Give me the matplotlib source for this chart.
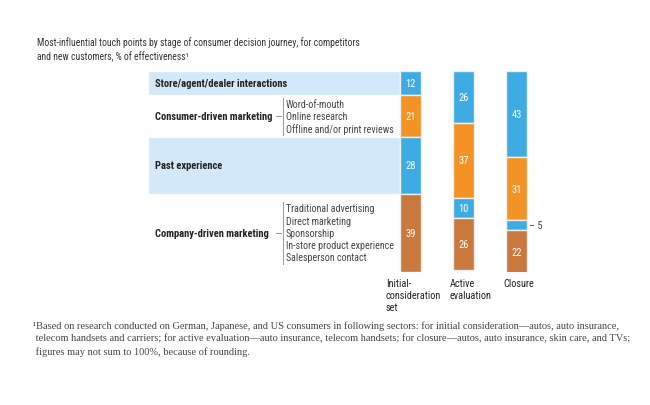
import matplotlib.pyplot as plt
from matplotlib import font_manager

# data
stages = ["Initial-\nconsideration\nset", "Active\nevaluation", "Closure"]
touch_points = [
    "Store/agent/dealer interactions",
    "Consumer-driven marketing",
    "Past experience",
    "Company-driven marketing",
]
sub_items = [
    [],
    ["Word-of-mouth", "Online research", "Offline and/or print reviews"],
    [],
    ["Traditional advertising", "Direct marketing", "Sponsorship",
     "In-store product experience", "Salesperson contact"],
]
initial = [12, 21, 28, 39]
active = [26, 37, 10, 26]
closure = [43, 31, 5, 22]
values = [initial, active, closure]

title = ("Most-influential touch points by stage of consumer decision journey, for competitors\n"
         "and new customers, % of effectiveness\u00b9")
footnote = ("\u00b9Based on research conducted on German, Japanese, and US consumers in following sectors: "
            "for initial consideration\u2014autos, auto insurance,\n"
            " telecom handsets and carriers; for active evaluation\u2014auto insurance, telecom handsets; "
            "for closure\u2014autos, auto insurance, skin care, and TVs;\n"
            " figures may not sum to 100%, because of rounding.")

blue = "#3eabe3"
orange = "#f39325"
brown = "#c9793d"
band = "#d3e8f8"
seg_colors = [blue, orange, blue, brown]
text_dark = "#222222"
text_mid = "#444444"

installed = {f.name for f in font_manager.fontManager.ttflist}
sans = [f for f in ["Liberation Sans Narrow", "Roboto Condensed", "Liberation Sans"] if f in installed]
plt.rcParams["font.family"] = sans + ["DejaVu Sans"]

fig = plt.figure(figsize=(6.5, 4.06), dpi=100)
W, H = 650, 406
x0, x1 = 148, 560
y_top, y_bot = 72, 273
ax = fig.add_axes([x0 / W, 1 - y_bot / H, (x1 - x0) / W, (y_bot - y_top) / H])
ax.set_xlim(x0, x1)
ax.set_ylim(100, 0)
ax.axis("off")

bar_centers = [410.5, 463.5, 516.5]
bar_w = 21
label_dx = [-14, -3, -3]

# left-hand row bands and labels follow the initial-consideration segments
start = 0
for i, (name, v) in enumerate(zip(touch_points, initial)):
    mid = start + v / 2
    if i % 2 == 0:
        ax.barh(mid, bar_centers[0] - bar_w / 2 - x0, left=x0, height=v,
                color=band, edgecolor="white", linewidth=1)
    ax.text(155, mid, name, fontsize=7.6, fontweight="bold", color=text_dark,
            va="center", ha="left")
    items = sub_items[i]
    if items:
        step = 12.3 / (y_bot - y_top) * 100
        first = mid - step * (len(items) - 1) / 2
        ax.plot([276, 281], [mid, mid], color="#999999", lw=0.7)
        ax.plot([283, 283], [first - step / 2, first + step * (len(items) - 0.5)],
                color="#999999", lw=0.7)
        for k, it in enumerate(items):
            ax.text(286, first + k * step, it, fontsize=7.2, color=text_mid,
                    va="center", ha="left")
    start += v

# stacked bars
for j, vals in enumerate(values):
    start = 0
    for k, v in enumerate(vals):
        ax.bar(bar_centers[j], v, bottom=start, width=bar_w, color=seg_colors[k],
               edgecolor="#eeeeee", linewidth=1)
        mid = start + v / 2
        if v >= 8:
            ax.text(bar_centers[j], mid, str(v), color="white", fontsize=7.6,
                    ha="center", va="center")
        else:
            ax.text(bar_centers[j] + bar_w / 2 + 2, mid, "\u2013 " + str(v),
                    color=text_mid, fontsize=7.6, ha="left", va="center")
        start += v
    ax.text(bar_centers[j] - bar_w / 2 + label_dx[j], 103, stages[j], fontsize=7.4,
            color=text_dark, ha="left", va="top", linespacing=1.25)

fig.text(37 / W, 1 - 37 / H, title, fontsize=6.9, color="#333333", ha="left", va="top",
         linespacing=1.4)
fig.text(33 / W, 1 - 321 / H, footnote, fontsize=7.5, color=text_mid, ha="left", va="top",
         family=["Liberation Serif", "DejaVu Serif"], linespacing=1.45)

fig.savefig("out.png", dpi=100, facecolor="white")
